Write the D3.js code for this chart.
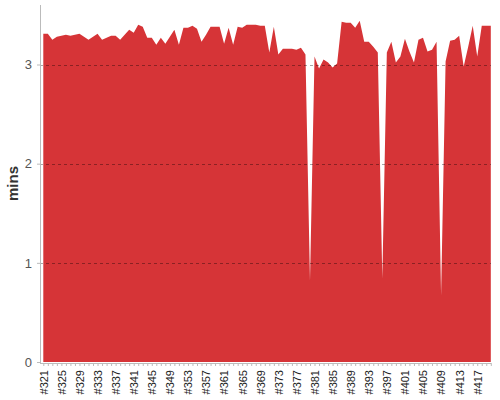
<!DOCTYPE html>
<html><head><meta charset="utf-8">
<script src="https://cdn.jsdelivr.net/npm/d3@7"></script>
<style>body{margin:0;background:#fff}svg{display:block}</style>
</head><body>
<svg id="c" width="500" height="400"></svg>
<script>
const builds = ["#321","#322","#323","#324","#325","#326","#327","#328","#329","#330","#331","#332","#333","#334","#335","#336","#337","#338","#339","#340","#341","#342","#343","#344","#345","#346","#347","#348","#349","#350","#351","#352","#353","#354","#355","#356","#357","#358","#359","#360","#361","#362","#363","#364","#365","#366","#367","#368","#369","#370","#371","#372","#373","#374","#375","#376","#377","#378","#379","#380","#381","#382","#383","#384","#385","#386","#387","#388","#389","#390","#391","#392","#393","#394","#395","#396","#397","#398","#399","#400","#401","#402","#403","#404","#405","#406","#407","#408","#409","#410","#411","#412","#413","#414","#415","#416","#417","#418","#419","#420"];
const minutes = [3.31,3.31,3.25,3.28,3.29,3.30,3.29,3.30,3.31,3.28,
3.25,3.28,3.31,3.25,3.27,3.29,3.29,3.25,3.30,3.35,
3.32,3.40,3.38,3.27,3.27,3.20,3.27,3.21,3.28,3.35,
3.20,3.37,3.37,3.39,3.36,3.23,3.30,3.38,3.38,3.38,
3.21,3.37,3.20,3.38,3.37,3.40,3.40,3.40,3.39,3.39,
3.12,3.38,3.10,3.16,3.16,3.16,3.15,3.17,3.10,0.82,
3.08,2.96,3.05,3.02,2.97,3.01,3.43,3.42,3.42,3.37,
3.44,3.23,3.23,3.18,3.12,0.84,3.12,3.23,3.02,3.08,
3.26,3.13,3.02,3.25,3.27,3.13,3.15,3.23,0.67,3.03,
3.24,3.25,3.29,2.98,3.18,3.39,3.08,3.39,3.39,3.39];
const xTickLabels = ["#321","#325","#329","#333","#337","#341","#345","#349","#353","#357","#361","#365","#369","#373","#377","#381","#385","#389","#393","#397","#401","#405","#409","#413","#417"];
const yTicks = [0,1,2,3];
const yLabel = "mins";

const svg = d3.select("#c");
const L = 40, R = 491, T = 5, B = 362;
const x = d3.scalePoint().domain(builds).range([43.3, 490.8]);
const y = d3.scaleLinear().domain([0, 3.6]).range([B, T]);
const data = builds.map((b,i)=>({b, v: minutes[i]}));

svg.append("path").datum(data)
  .attr("fill", "#d63437")
  .attr("d", d3.area().x(d=>x(d.b)).y0(y(0)).y1(d=>y(d.v)));

// gridlines
svg.append("g").selectAll("line").data(yTicks.filter(t=>t>0)).join("line")
  .attr("x1", L).attr("x2", R)
  .attr("y1", d=>Math.round(y(d))+0.5).attr("y2", d=>Math.round(y(d))+0.5)
  .attr("stroke", "rgba(0,0,0,0.35)").attr("stroke-dasharray", "3,3");

// y axis
const ya = svg.append("g").attr("transform", `translate(${L},0)`)
  .call(d3.axisLeft(y).tickValues(yTicks).tickFormat(d3.format("d")).tickSize(3).tickPadding(5).tickSizeOuter(0));
ya.select(".domain").attr("stroke", "#bbb").attr("d", `M0.5,${T}V${B+1}`);
ya.selectAll(".tick line").attr("stroke", "#bbb");
ya.selectAll(".tick text").attr("font-family", "Liberation Sans, Arial, sans-serif").attr("font-size", 13).attr("fill", "#555");

// x axis
const xa = svg.append("g").attr("transform", `translate(0,${B+1})`)
  .call(d3.axisBottom(x).tickSize(3).tickSizeOuter(0).tickFormat(d => xTickLabels.includes(d) ? d : ""));
xa.select(".domain").attr("stroke", "#bbb").attr("d", `M${L},0.5H${R}`);
xa.selectAll(".tick line").attr("stroke", "#bbb");
xa.selectAll(".tick text")
  .attr("font-family", "Liberation Sans, Arial, sans-serif").attr("font-size", 11).attr("fill", "#222")
  .attr("text-anchor", "end").attr("transform", "rotate(-90)")
  .attr("x", -7).attr("y", 0).attr("dy", "0.35em");

svg.append("text").text(yLabel)
  .attr("transform", `translate(18,${(T+B)/2}) rotate(-90)`)
  .attr("text-anchor", "middle")
  .attr("font-family", "Liberation Sans, Arial, sans-serif").attr("font-size", 15).attr("font-weight", "bold").attr("fill", "#333");
</script>
</body></html>
